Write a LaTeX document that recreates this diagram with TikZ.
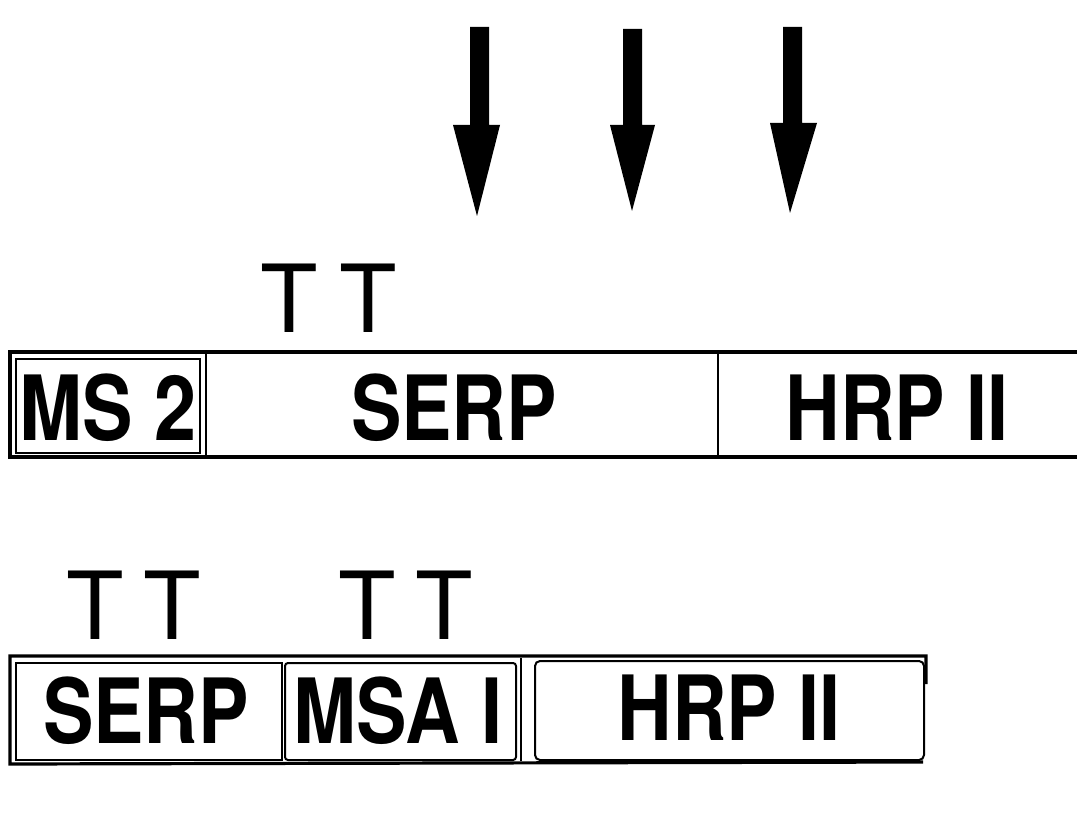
\documentclass[tikz,border=0pt]{standalone}
\usepackage{fontspec}
\usepackage{graphicx}
\setmainfont{TeX Gyre Heros}
\newcommand{\squeeze}[1]{\scalebox{0.84}[1]{#1}}
\tikzset{
  frame/.style={draw=black, line width=3.2pt},
  part/.style={draw=black, line width=2pt, inner sep=0pt, anchor=north west},
  partlabel/.style={inner sep=0pt, anchor=base,
    font=\fontsize{90}{90}\selectfont\bfseries},
  tmark/.style={inner sep=0pt, anchor=base,
    font=\fontsize{94}{94}\selectfont},
  bigarrow/.style={fill=black}
}
\begin{document}
\begin{tikzpicture}[x=1pt, y=-1pt]
  \useasboundingbox (0,0) rectangle (1077,818);

  % downward arrows above the upper construct
  \fill[bigarrow] (470,27) -- (489,27) -- (489,125) -- (500,125) -- (477,216)
                  -- (453,125) -- (470,125) -- cycle;
  \fill[bigarrow] (623,29) -- (642,29) -- (642,125) -- (655,125) -- (632,211)
                  -- (610,125) -- (623,125) -- cycle;
  \fill[bigarrow] (783,27) -- (802,27) -- (802,123) -- (817,123) -- (790,213)
                  -- (770,123) -- (783,123) -- cycle;

  % upper construct: MS2 | SERP | HRP II
  \coordinate (r1nw) at (10,352);
  \coordinate (r1se) at (1090,457);
  \draw[frame] (r1nw) rectangle (r1se);
  \node[part, minimum width=184pt, minimum height=94pt] (ms2) at (15,358) {};
  \node[part, minimum width=512pt, minimum height=105pt] (serp1) at (205,352) {};
  \node[part, minimum width=380pt, minimum height=105pt] (hrp1) at (717,352) {};

  \node[partlabel] (ms2t) at (108,440) {\squeeze{MS 2}};
  \node[partlabel] (serp1t) at (454,440) {\squeeze{SERP}};
  \node[partlabel] (hrp1t) at (897,440) {\squeeze{HRP II}};

  \node[tmark] (t1) at (289,333) {T};
  \node[tmark] (t2) at (368,333) {T};

  % lower construct: SERP | MSA I | HRP II
  \coordinate (r2a) at (926,684);
  \coordinate (r2b) at (926,656);
  \coordinate (r2c) at (10,656);
  \coordinate (r2d) at (10,764);
  \coordinate (r2e) at (923,762);
  \draw[frame, line join=miter] (r2a) -- (r2b) -- (r2c) -- (r2d) -- (r2e);
  \node[part, minimum width=266pt, minimum height=97pt] (serp2) at (15,662) {};
  \node[part, minimum width=231pt, minimum height=97pt,
        rounded corners=3pt] (msa) at (284,662) {};
  \node[part, minimum width=389pt, minimum height=99pt,
        rounded corners=5pt] (hrp2) at (534,660) {};
  \coordinate (sep2top) at (521,658);
  \coordinate (sep2bot) at (521,761);
  \draw[line width=2pt] (sep2top) -- (sep2bot);

  \node[partlabel] (serp2t) at (146,743) {\squeeze{SERP}};
  \node[partlabel] (msat) at (398,743) {\squeeze{MSA I}};
  \node[partlabel] (hrp2t) at (729,740) {\squeeze{HRP II}};

  \node[tmark] (t3) at (95,639) {T};
  \node[tmark] (t4) at (172,639) {T};
  \node[tmark] (t5) at (367,639) {T};
  \node[tmark] (t6) at (444,639) {T};
\end{tikzpicture}
\end{document}
